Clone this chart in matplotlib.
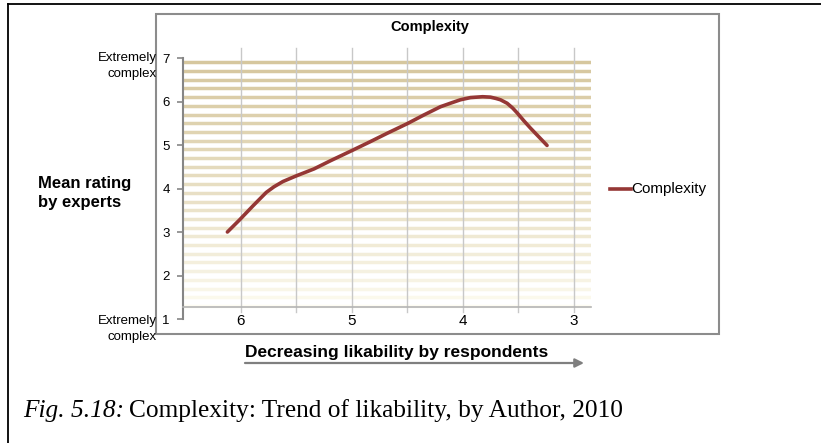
import numpy as np
import matplotlib
matplotlib.use("Agg")
import matplotlib.pyplot as plt
from matplotlib.lines import Line2D
from matplotlib.patches import Rectangle, FancyArrowPatch

# Mean expert rating of complexity along decreasing likability
likability = [6.12, 6.01, 5.89, 5.77, 5.70, 5.62, 5.50, 5.34, 5.19, 5.00, 4.83,
              4.68, 4.50, 4.35, 4.20, 4.10, 4.02, 3.93, 3.82, 3.75, 3.70, 3.66,
              3.60, 3.55, 3.51, 3.45, 3.39, 3.24]
rating = [3.00, 3.28, 3.60, 3.91, 4.04, 4.16, 4.29, 4.45, 4.64, 4.87, 5.08,
          5.27, 5.49, 5.69, 5.88, 5.97, 6.04, 6.09, 6.11, 6.10, 6.07, 6.04,
          5.96, 5.85, 5.74, 5.56, 5.39, 4.99]
series_name = "Complexity"
x_ticks = [6, 5, 4, 3]
y_ticks = [1, 2, 3, 4, 5, 6, 7]

W, H = 821, 443
SANS = "Liberation Sans"
SERIF = "Liberation Serif"
LINE_COLOR = "#953735"


def fx(x):
    return x / W


def fy(y):
    return 1 - y / H


fig = plt.figure(figsize=(W / 100, H / 100), dpi=100)
fig.patch.set_facecolor("white")

# page frame (top and left edges)
fig.add_artist(Line2D([fx(8), fx(W)], [fy(4), fy(4)], color="black", lw=1.3))
fig.add_artist(Line2D([fx(8), fx(8)], [fy(4), fy(H)], color="black", lw=1.3))

# chart area border
fig.add_artist(Rectangle((fx(156), fy(334)), (719 - 156) / W, (334 - 14) / H,
                         transform=fig.transFigure, fill=False,
                         edgecolor="#8c8c8c", lw=1.5))

# plot area
left, right, top, bottom = 183, 591, 48, 319
ax = fig.add_axes([fx(left), fy(bottom), (right - left) / W, (bottom - top) / H])
ax.set_xlim(6.52, 2.844)
ax.set_ylim(1.0, 7.23)
ax.patch.set_alpha(0)

x_axis_level = 1.28

# shaded horizontal bands, dark at the top fading to pale at the bottom
band_levels = np.arange(6.9, 1.25, -0.2)
c_top = np.array([0.84, 0.78, 0.62])
c_bot = np.array([0.995, 0.99, 0.95])
for i, lv in enumerate(band_levels):
    t = i / (len(band_levels) - 1)
    c = c_top * (1 - t) ** 0.8 + c_bot * (1 - (1 - t) ** 0.8)
    ax.axhline(lv, color=c, lw=2.5, zorder=0.5)

# vertical gridlines
for gx in np.arange(6.0, 2.9, -0.5):
    ax.plot([gx, gx], [x_axis_level - 0.13, 7.23], color="#c8c8c8", lw=1.0,
            zorder=0.8, clip_on=False)

ax.plot(likability, rating, color=LINE_COLOR, lw=2.6,
        solid_capstyle="round", solid_joinstyle="round", zorder=3)

# axes styling
for s in ["top", "right"]:
    ax.spines[s].set_visible(False)
ax.spines["left"].set_bounds(1, 7)
ax.spines["left"].set_color("#868686")
ax.spines["left"].set_linewidth(1.5)
ax.spines["bottom"].set_position(("data", x_axis_level))
ax.spines["bottom"].set_color("#b4b4b4")
ax.spines["bottom"].set_linewidth(1.2)

ax.set_yticks(y_ticks)
ax.set_yticklabels([str(v) for v in y_ticks], family=SANS, fontsize=9.5)
ax.tick_params(axis="y", direction="out", length=4.5, width=1.2,
               color="#868686", pad=5)
ax.set_xticks(x_ticks)
ax.set_xticklabels([str(v) for v in x_ticks], family=SANS, fontsize=11)
ax.tick_params(axis="x", length=0, pad=5)

# titles and labels
fig.text(fx(430), fy(27), "Complexity", family=SANS, fontweight="bold",
         fontsize=10.5, ha="center", va="center")
fig.text(fx(38), fy(193), "Mean rating\nby experts", family=SANS,
         fontweight="bold", fontsize=12, ha="left", va="center",
         linespacing=1.3)
fig.text(fx(157), fy(66), "Extremely\ncomplex", family=SANS, fontsize=9.5,
         ha="right", va="center", multialignment="right", linespacing=1.35)
fig.text(fx(157), fy(329), "Extremely\ncomplex", family=SANS, fontsize=9.5,
         ha="right", va="center", multialignment="right", linespacing=1.35)
fig.text(fx(245), fy(352), "Decreasing likability by respondents",
         family=SANS, fontweight="bold", fontsize=12.5, ha="left",
         va="center")
fig.add_artist(FancyArrowPatch((fx(245), fy(363)), (fx(584), fy(363)),
                               transform=fig.transFigure, arrowstyle="-|>",
                               mutation_scale=13, lw=1.6, color="#7f7f7f",
                               shrinkA=0, shrinkB=0))

# legend
fig.add_artist(Line2D([fx(610), fx(631)], [fy(189), fy(189)],
                      color=LINE_COLOR, lw=2.6))
fig.text(fx(631), fy(189), series_name, family=SANS, fontsize=11,
         ha="left", va="center")

# caption: italic figure number followed by upright description
renderer = fig.canvas.get_renderer()
cap_y = fy(411)
fig_no = fig.text(fx(23), cap_y, "Fig. 5.18:", family=SERIF, style="italic",
                  fontsize=18.3, ha="left", va="center")
bb = fig_no.get_window_extent(renderer=renderer)
fig.text(fx(bb.x1 + 5), cap_y, "Complexity: Trend of likability, by Author, 2010",
         family=SERIF, fontsize=18.3, ha="left", va="center")

fig.savefig("out.png", dpi=100)
